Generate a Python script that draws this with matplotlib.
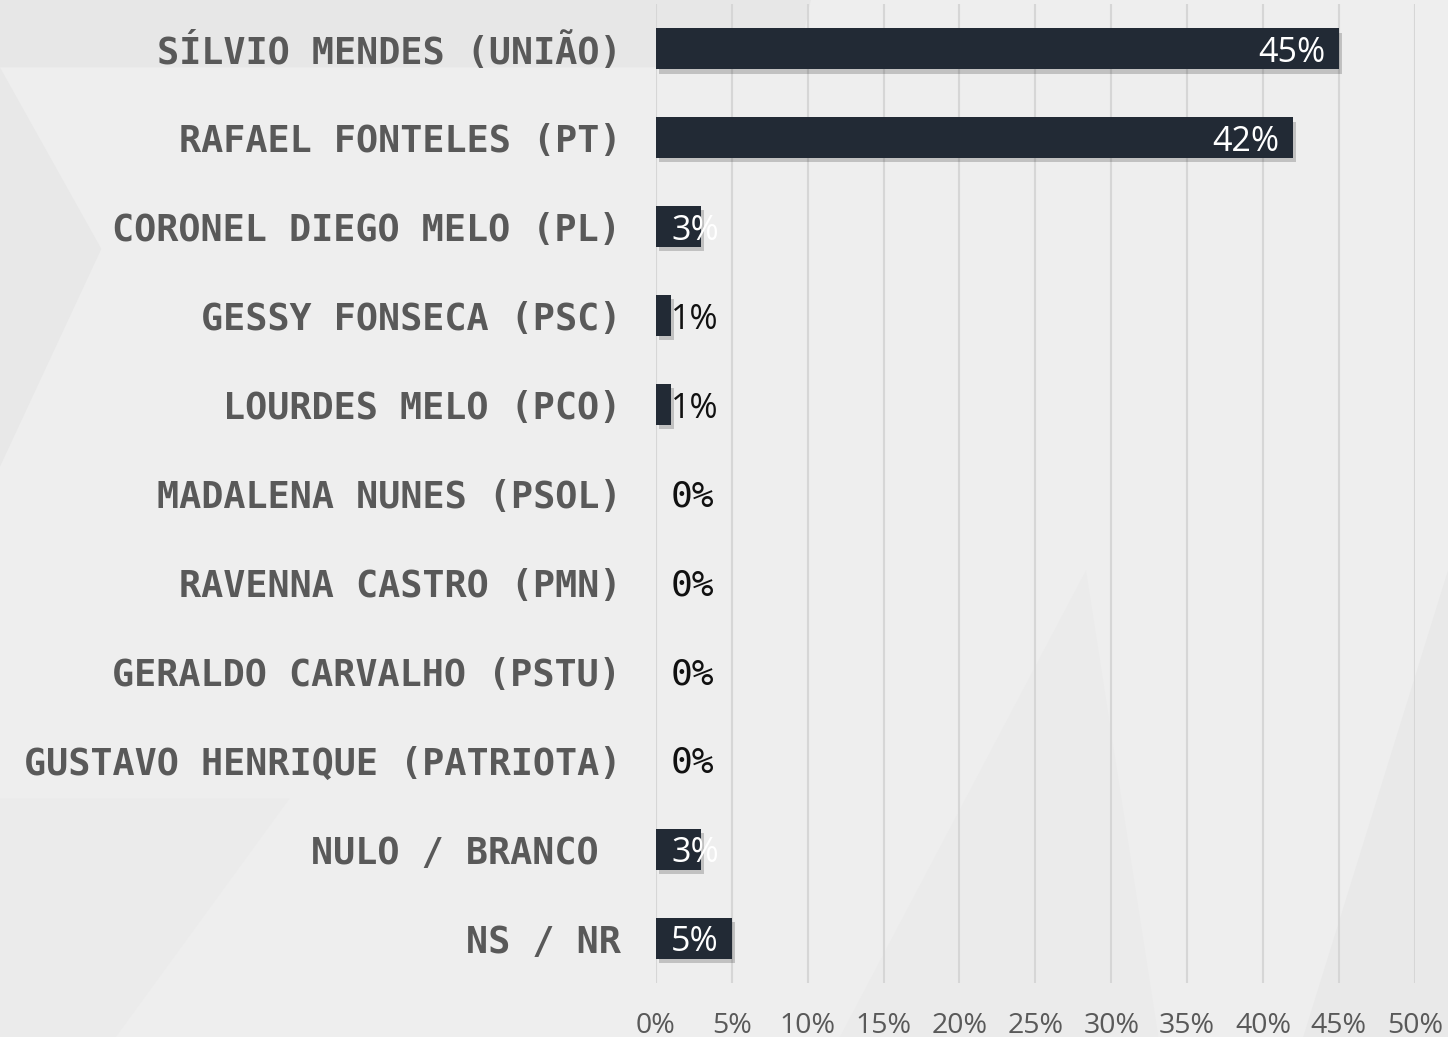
import matplotlib
matplotlib.use("Agg")
import matplotlib.pyplot as plt
import matplotlib.patheffects as pe
from matplotlib.patches import Polygon

categories = [
    "SÍLVIO MENDES (UNIÃO)",
    "RAFAEL FONTELES (PT)",
    "CORONEL DIEGO MELO (PL)",
    "GESSY FONSECA (PSC)",
    "LOURDES MELO (PCO)",
    "MADALENA NUNES (PSOL)",
    "RAVENNA CASTRO (PMN)",
    "GERALDO CARVALHO (PSTU)",
    "GUSTAVO HENRIQUE (PATRIOTA)",
    "NULO / BRANCO ",
    "NS / NR",
]
values = [45, 42, 3, 1, 1, 0, 0, 0, 0, 3, 5]
xticks = [0, 5, 10, 15, 20, 25, 30, 35, 40, 45, 50]
xtick_labels = [f"{t}%" for t in xticks]

BG = "#eeeeee"
BAR = "#222a35"
LABEL = "#595959"

fig = plt.figure(figsize=(14.48, 10.37), dpi=100, facecolor=BG)

# faint decorative background shapes (figure coordinates)
deco = [
    ([(0, 1), (0.56, 1), (0.55, 0.935), (0, 0.935)], "#e7e7e7"),
    ([(0, 0.935), (0.07, 0.76), (0.0, 0.55)], "#e8e8e8"),
    ([(0.58, 0.0), (0.75, 0.45), (0.80, 0.0)], "#ebebeb"),
    ([(0.90, 0.0), (1.0, 0.45), (1.0, 0.0)], "#e9e9e9"),
    ([(0.0, 0.23), (0.20, 0.23), (0.08, 0.0), (0.0, 0.0)], "#ebebeb"),
]
for pts, c in deco:
    fig.patches.append(Polygon(pts, closed=True, transform=fig.transFigure,
                               facecolor=c, edgecolor="none", zorder=-10))

ax = fig.add_axes([0.453, 0.0525, 0.524, 0.9432])
ax.set_facecolor("none")

y = list(range(len(categories)))
bars = ax.barh(y, values, height=0.46, color=BAR, zorder=3)
for b in bars:
    b.set_path_effects([pe.SimplePatchShadow(offset=(2, -3), alpha=0.22, shadow_rgbFace="#222222"),
                        pe.Normal()])

ax.set_xlim(0, 50)
ax.set_ylim(len(categories) - 0.5, -0.5)
ax.set_xticks(xticks)
ax.set_xticklabels(xtick_labels, fontfamily="Open Sans", fontsize=20.5, color=LABEL)
ax.set_yticks(y)
ax.set_yticklabels(categories, fontfamily="DejaVu Sans Mono", fontweight="bold",
                   fontsize=26.5, color=LABEL)
ax.tick_params(axis="x", length=0, pad=21)
ax.tick_params(axis="y", length=0, pad=25)
ax.grid(axis="x", color="#d6d6d6", linewidth=1.5, zorder=0)
ax.set_axisbelow(True)
for s in ax.spines.values():
    s.set_visible(False)

for yi, v in zip(y, values):
    lab = f"{v}%"
    if v > 10:
        ax.text(v - 0.9, yi + 0.045, lab, ha="right", va="center", color="white",
                fontfamily="Open Sans", fontsize=24.5, zorder=5)
    elif v == 0:
        ax.text(1.0, yi + 0.03, lab, ha="left", va="center", color="#111111",
                fontfamily="DejaVu Sans Mono", fontsize=26, zorder=5)
    else:
        col = "white" if v >= 3 else "#111111"
        ax.text(1.0, yi + 0.045, lab, ha="left", va="center", color=col,
                fontfamily="Open Sans", fontsize=24.5, zorder=5)

fig.savefig("out.png", dpi=100, facecolor=BG)
